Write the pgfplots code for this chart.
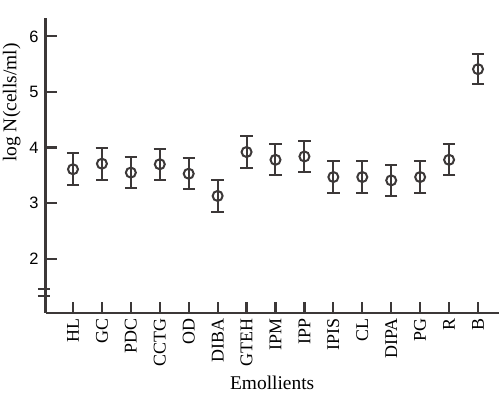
\documentclass[border=0pt]{standalone}
\usepackage{fontspec}
\setmainfont{Liberation Serif}
\newfontfamily\arial{Liberation Sans}
\usepackage{pgfplots}
\pgfplotsset{compat=1.18}
\definecolor{dk}{RGB}{60,56,56}
\pgfplotstableread{
x y e
0 3.61 0.285
1 3.71 0.285
2 3.55 0.285
3 3.70 0.28
4 3.53 0.28
5 3.13 0.28
6 3.92 0.285
7 3.78 0.28
8 3.84 0.28
9 3.47 0.28
10 3.47 0.285
11 3.41 0.285
12 3.47 0.28
13 3.78 0.28
14 5.41 0.275
}\datatab
\begin{document}
\begin{tikzpicture}
\begin{axis}[
 x=28.93bp, y=55.6bp,
 xmin=-0.95, xmax=14.72, ymin=1.03, ymax=6.33,
 axis x line*=bottom, axis y line*=left,
 axis line style={dk, line width=2.2bp, -},
 tick style={dk, line width=2.2bp},
 tick align=inside,
 major tick length=11bp,
 xtick={0,...,14},
 xticklabels={HL,GC,PDC,CCTG,OD,DIBA,GTEH,IPM,IPP,IPIS,CL,DIPA,PG,R,B},
 ytick={2,3,4,5,6},
 /pgf/number format/assume math mode=true,
 yticklabel style={font=\arial\fontsize{16.5}{16.5}\selectfont, text=black, xshift=-3.5bp},
 xticklabel style={rotate=90, anchor=east, font=\fontsize{18}{18}\selectfont, text=black, xshift=-2bp},
 clip=false,
]
\addplot[dk, line width=2bp, only marks, mark=o, mark size=5bp,
  mark options={fill=white, line width=2bp},
  error bars/.cd, y dir=both, y explicit,
  error bar style={line width=2bp, dk},
  error mark options={rotate=90, mark size=6.2bp, line width=2bp, dk}]
  table[x=x, y=y, y error=e]{\datatab};
\coordinate (sw) at (rel axis cs:0,0);
\draw[dk, line width=1.8bp] ([xshift=-7.5bp]axis cs:-0.95,1.453) -- ([xshift=4.5bp]axis cs:-0.95,1.453);
\draw[dk, line width=1.8bp] ([xshift=-7.5bp]axis cs:-0.95,1.333) -- ([xshift=4.5bp]axis cs:-0.95,1.333);
\node[rotate=90, anchor=center, font=\fontsize{19.5}{19.5}\selectfont] at ([xshift=-33.8bp]rel axis cs:0,0.713) {log N(cells/ml)};
\node[anchor=base, font=\fontsize{19.5}{19.5}\selectfont] at ([yshift=-76.3bp]rel axis cs:0.5,0) {Emollients};
\end{axis}
\pgfresetboundingbox
\path (sw) ++(-45.5bp,-86.3bp) rectangle ++(500bp,399bp);
\end{tikzpicture}
\end{document}
